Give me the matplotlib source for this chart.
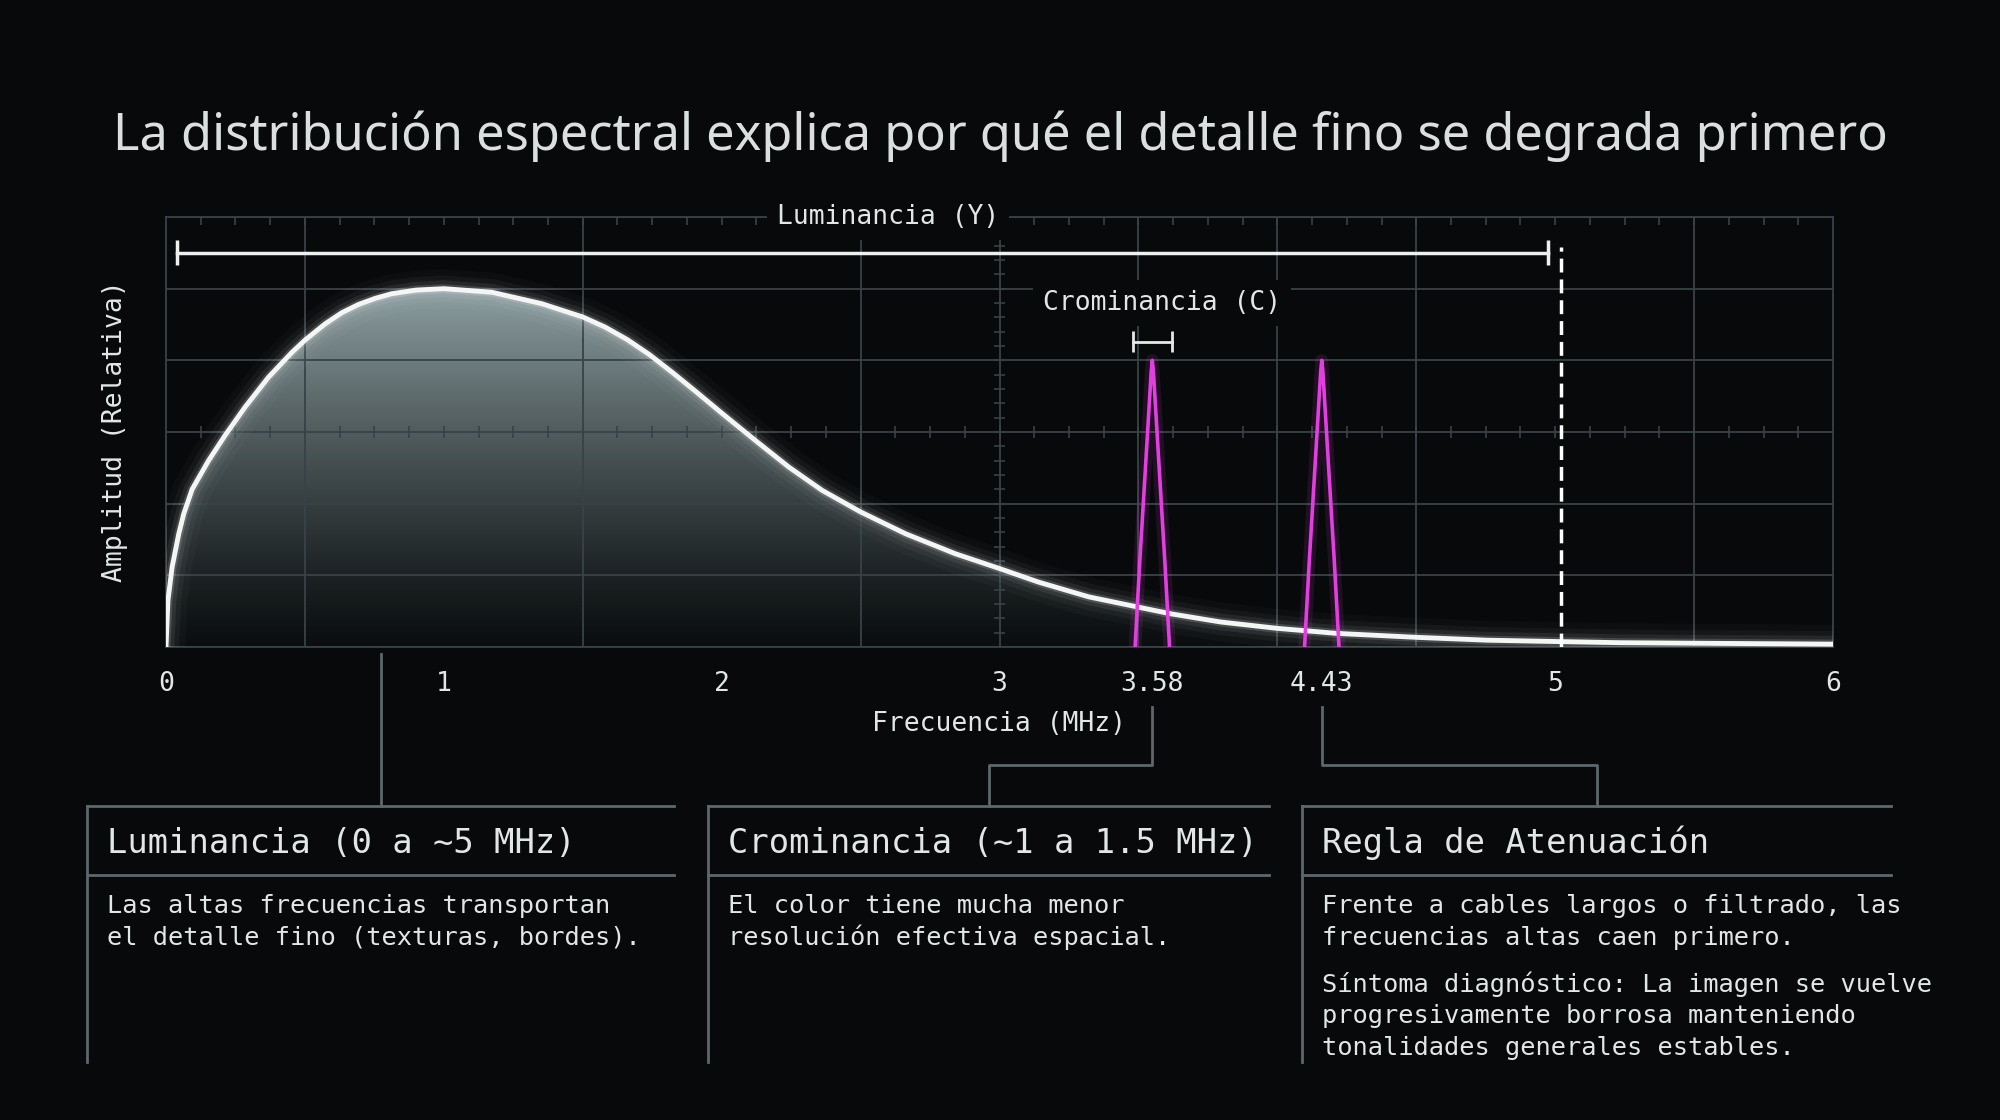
import numpy as np
import matplotlib.pyplot as plt
from matplotlib.patches import Polygon


# Data
# -------------------------
lum_freq = [0, 0.007, 0.022, 0.046, 0.064, 0.094, 0.153, 0.213, 0.285, 0.369,
            0.453, 0.501, 0.573, 0.633, 0.693, 0.753, 0.813, 0.9, 1.0, 1.173,
            1.353, 1.5, 1.58, 1.66, 1.74, 1.823, 1.91, 2.0, 2.122, 2.242,
            2.362, 2.5, 2.662, 2.842, 3.0, 3.141, 3.321, 3.489, 3.614, 3.794,
            4.0, 4.214, 4.5, 4.754, 5.02, 5.234, 5.6, 6.0]
lum_amp = [0, 0.13, 0.223, 0.316, 0.372, 0.440, 0.520, 0.591, 0.670, 0.753,
           0.822, 0.857, 0.902, 0.933, 0.956, 0.973, 0.986, 0.996, 1.0, 0.990,
           0.958, 0.921, 0.893, 0.858, 0.816, 0.766, 0.711, 0.653, 0.576, 0.502,
           0.437, 0.377, 0.316, 0.260, 0.219, 0.181, 0.140, 0.113, 0.093, 0.070,
           0.052, 0.038, 0.027, 0.019, 0.015, 0.012, 0.010, 0.008]

# chroma sub-carriers (positions as drawn in the picture)
chroma_centres = [3.55, 4.16]
chroma_peak = 0.80
spike_offset = [-0.062, -0.045, -0.0275, -0.012, -0.004, 0, 0.004, 0.012, 0.0275, 0.045, 0.062]
spike_rel = [0, 0.30, 0.58, 0.83, 0.96, 1.0, 0.96, 0.83, 0.58, 0.30, 0]

tick_pos = [0, 1, 2, 3, 3.55, 4.16, 5, 6]
tick_labels = ['0', '1', '2', '3', '3.58', '4.43', '5', '6']

lum_band = [0.04, 4.975]
lum_band_y = 1.10
lum_cutoff = 5.02
chroma_band = [3.48, 3.62]
chroma_band_y = 0.852

title = 'La distribución espectral explica por qué el detalle fino se degrada primero'

card_titles = ['Luminancia (0 a ~5 MHz)',
               'Crominancia (~1 a 1.5 MHz)',
               'Regla de Atenuación']
card_lines = [['Las altas frecuencias transportan',
               'el detalle fino (texturas, bordes).'],
              ['El color tiene mucha menor',
               'resolución efectiva espacial.'],
              ['Frente a cables largos o filtrado, las',
               'frecuencias altas caen primero.',
               'Síntoma diagnóstico: La imagen se vuelve',
               'progresivamente borrosa manteniendo',
               'tonalidades generales estables.']]
card_anchor = [0.774, 3.55, 4.16]


# Style
# -----
BG = '#07090b'
GRID = '#384347'
LINE = '#5d686c'
TXT = '#e2e6e6'
PINK = '#e23ee0'
MONO = 'DejaVu Sans Mono'

fig = plt.figure(figsize=(20, 11.2), dpi=100, facecolor=BG)

# pixel overlay for cards and connectors (y downwards)
ov = fig.add_axes([0, 0, 1, 1], zorder=0)
ov.set_xlim(0, 2000)
ov.set_ylim(1120, 0)
ov.axis('off')
ov.patch.set_alpha(0)

ax = fig.add_axes([166 / 2000, 1 - 647 / 1120, 1667 / 2000, 430 / 1120], zorder=1)
ax.set_facecolor(BG)
ax.set_xlim(0, 6)
ax.set_ylim(0, 1.2)

# grid / frame
ax.set_xticks(np.arange(0, 6.01, 0.5), minor=True)
ax.set_yticks(np.arange(0, 1.21, 0.2), minor=True)
ax.set_yticks([])
ax.set_xticks(tick_pos, tick_labels)
ax.grid(which='minor', color=GRID, lw=1.3)
ax.set_axisbelow(False)
ax.tick_params(which='both', length=0)
ax.tick_params(axis='x', pad=17, labelsize=19, labelcolor=TXT)
for lab in ax.get_xticklabels():
    lab.set_family(MONO)
for sp in ax.spines.values():
    sp.set_color(GRID)
    sp.set_linewidth(1.3)

# scope ticks
xt = np.arange(0.125, 6, 0.125)
ax.vlines(xt, 1.2 - 0.022, 1.2, color=GRID, lw=1.2, zorder=2)
ax.vlines(xt, 0.6 - 0.018, 0.6 + 0.018, color=GRID, lw=1.2, zorder=2)
ax.axvline(3, color=GRID, lw=1.3, zorder=2)
ax.hlines(np.arange(0.04, 1.2, 0.04), 3 - 0.018, 3 + 0.018, color=GRID, lw=1.2, zorder=2)

# gradient fill under luminance curve
poly = Polygon(list(zip(lum_freq, lum_amp)) + [(6, 0), (0, 0)], closed=True,
               facecolor='none', edgecolor='none')
ax.add_patch(poly)
g = np.linspace(0, 1, 256)[:, None]
c0 = np.array([0.04, 0.055, 0.06])
c1 = np.array([0.55, 0.62, 0.63])
rgb = c0 + (c1 - c0) * g[..., None] ** 1.2
img = np.concatenate([rgb, np.ones((256, 1, 1))], axis=2)
im = ax.imshow(img, extent=[0, 6, 0, 1.0], origin='lower', aspect='auto', zorder=1)
im.set_clip_path(poly)

# luminance curve with glow
for lw, a in [(28, 0.025), (19, 0.04), (12, 0.07), (6.5, 0.15)]:
    ax.plot(lum_freq, lum_amp, color='white', lw=lw, alpha=a,
            solid_capstyle='round', solid_joinstyle='round', zorder=3)
ax.plot(lum_freq, lum_amp, color='#f4f6f6', lw=3.5,
        solid_joinstyle='round', zorder=4)

# chroma spikes
for c in chroma_centres:
    sx = [c + o for o in spike_offset]
    sy = [chroma_peak * r for r in spike_rel]
    ax.plot(sx, sy, color=PINK, lw=9, alpha=0.12, zorder=3)
    ax.plot(sx, sy, color=PINK, lw=2.6, zorder=4)

# luminance band bracket and cutoff
ax.plot(lum_band, [lum_band_y] * 2, color='#eef0f0', lw=2.5, zorder=4)
ax.vlines(lum_band, lum_band_y - 0.035, lum_band_y + 0.035, color='#eef0f0', lw=2.5, zorder=4)
ax.vlines(lum_cutoff, 0, lum_band_y + 0.016, color='white', lw=2.5,
          linestyle=(0, (4, 2)), zorder=4)
ax.text(2.60, 1.2, 'Luminancia (Y)', family=MONO, fontsize=19, color=TXT,
        ha='center', va='center', zorder=5, clip_on=False,
        bbox=dict(facecolor=BG, edgecolor='none', pad=7))

# chroma bracket
ax.plot(chroma_band, [chroma_band_y] * 2, color='#e6e8e8', lw=2, zorder=4)
ax.vlines(chroma_band, chroma_band_y - 0.03, chroma_band_y + 0.03, color='#e6e8e8', lw=2, zorder=4)
ax.text(3.585, 0.96, 'Crominancia (C)', family=MONO, fontsize=19, color=TXT,
        ha='center', va='center', zorder=5,
        bbox=dict(facecolor=BG, edgecolor='none', pad=7))

# axis labels
ax.set_xlabel('Frecuencia (MHz)', family=MONO, fontsize=19, color=TXT)
ax.xaxis.set_label_coords(0.4997, -(724 - 647) / 430)
ax.xaxis.label.set_va('center')
ax.set_ylabel('Amplitud (Relativa)', family=MONO, fontsize=19, color=TXT)
ax.yaxis.set_label_coords(-0.0306, 0.502)
ax.yaxis.label.set_va('center')

# title
fig.text(0.5, 1 - 150 / 1120, title, family='Noto Sans', fontsize=36.4,
         color='#dcdfe0', ha='center', va='baseline')


# Cards and connectors
# --------------------
card_left = [87, 708, 1302]
card_right = [674, 1269, 1891]
top, sep, bottom = 806, 875, 1062
card_base = [[913, 945], [913, 945], [913, 945, 992, 1023, 1055]]

for i in range(3):
    l, r = card_left[i], card_right[i]
    mid = (l + r) / 2
    ov.plot([l, r], [top, top], color=LINE, lw=2)
    ov.plot([l, r], [sep, sep], color=LINE, lw=2)
    ov.plot([l, l], [top, bottom], color=LINE, lw=2)
    ov.text(l + 20, 853, card_titles[i], family=MONO, fontsize=24.3, color=TXT, va='baseline')
    for line, yb in zip(card_lines[i], card_base[i]):
        ov.text(l + 20, yb, line, family=MONO, fontsize=18.3, color=TXT, va='baseline')

    x0 = ax.transData.transform((card_anchor[i], 0))[0]
    if i == 0:
        ov.plot([x0, x0], [654, top], color=LINE, lw=2)
    else:
        ov.plot([x0, x0, mid, mid], [707, 765, 765, top], color=LINE, lw=2)

fig.savefig('out.png', dpi=100, facecolor=BG)
